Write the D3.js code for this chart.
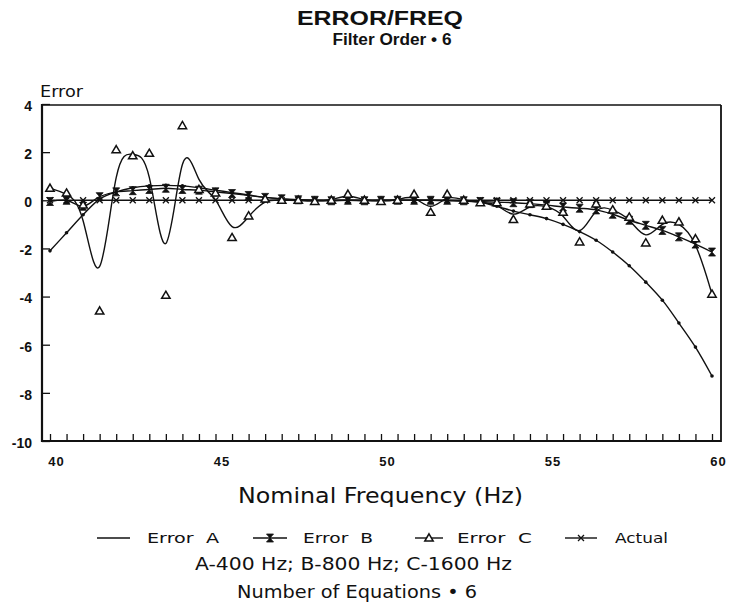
<!DOCTYPE html>
<html>
<head>
<meta charset="utf-8">
<script src="https://cdn.jsdelivr.net/npm/d3@7"></script>
<style>
  body { margin: 0; background: #fff; }
  svg { display: block; }
  text { font-family: "DejaVu Sans", "Liberation Sans", sans-serif; fill: #111; }
  .title { font-family: "Liberation Sans", Arial, sans-serif; }
  .axis path { display: none; }
  .axis line { stroke: #111; stroke-width: 1.3; }
  .axis text { font-size: 13px; font-weight: bold; fill: #111; font-family: "Liberation Sans", Arial, sans-serif; }
  .series { fill: none; stroke: #111; stroke-width: 1.4; }
  .frame { stroke: #111; fill: none; }
</style>
</head>
<body>
<svg id="chart" width="730" height="607"></svg>
<script>
// data, one value every 0.5 Hz
const freqs = [40, 40.5, 41, 41.5, 42, 42.5, 43, 43.5, 44, 44.5,
  45, 45.5, 46, 46.5, 47, 47.5, 48, 48.5, 49, 49.5,
  50, 50.5, 51, 51.5, 52, 52.5, 53, 53.5, 54, 54.5,
  55, 55.5, 56, 56.5, 57, 57.5, 58, 58.5, 59, 59.5, 60];

const errorA = [-2.1, -1.35, -0.6, 0.05, 0.35, 0.52, 0.6, 0.62, 0.6, 0.52,
  0.42, 0.32, 0.22, 0.12, 0.06, 0.02, 0, 0, 0, 0,
  0, 0, 0, 0, -0.02, -0.04, -0.08, -0.25, -0.45, -0.6,
  -0.76, -1.0, -1.3, -1.66, -2.15, -2.72, -3.4, -4.15, -5.1, -6.1, -7.3];

const errorB = [-0.05, 0, -0.25, 0.15, 0.35, 0.4, 0.45, 0.5, 0.45, 0.42,
  0.35, 0.28, 0.2, 0.12, 0.06, 0.02, 0, -0.02, 0, -0.02,
  0, 0, 0, 0, 0, -0.02, -0.05, -0.08, -0.1, -0.14,
  -0.2, -0.28, -0.33, -0.4, -0.58, -0.83, -1.04, -1.25, -1.52, -1.82, -2.15];

const errorC = [0.5, 0.3, -0.2, -4.6, 2.1, 1.85, 1.95, -3.95, 3.1, 0.45,
  0.3, -1.55, -0.65, 0.05, 0, 0, -0.05, 0, 0.25, 0,
  -0.05, 0, 0.25, -0.5, 0.25, 0, -0.1, -0.1, -0.8, -0.15,
  -0.25, -0.5, -1.73, -0.15, -0.4, -0.7, -1.77, -0.83, -0.9, -1.6, -3.9];

const actual = [0, 0, 0, 0, 0, 0, 0, 0, 0, 0,
  0, 0, 0, 0, 0, 0, 0, 0, 0, 0,
  0, 0, 0, 0, 0, 0, 0, 0, 0, 0,
  0, 0, 0, 0, 0, 0, 0, 0, 0, 0, 0];

const yTicks = [4, 2, 0, -2, -4, -6, -8, -10];
const xLabels = [40, 45, 50, 55, 60];
const legendLabels = ['Error\u00a0\u00a0A', 'Error\u00a0\u00a0B', 'Error\u00a0\u00a0C', 'Actual'];
const legendKeys = ['dot', 'hourglass', 'triangle', 'cross'];

const svg = d3.select('#chart');

const x = d3.scaleLinear().domain([40, 60]).range([50, 712]);
const y = d3.scaleLinear().domain([-10, 4]).range([441, 104]);

const frameLeft = 42;
const frameRight = 721;

// marker shapes
const marker = {
  dot: g => g.append('circle').attr('r', 1.8).attr('fill', '#111'),
  hourglass: g => g.append('path').attr('d', 'M-3.5,-4H3.5L-3.5,4H3.5Z')
    .attr('fill', '#111').attr('stroke', '#111').attr('stroke-width', 0.8),
  triangle: g => g.append('path').attr('d', 'M0,-4.2L4.2,3L-4.2,3Z')
    .attr('fill', '#fff').attr('stroke', '#111').attr('stroke-width', 1.5),
  cross: g => g.append('path').attr('d', 'M-3,-3L3,3M-3,3L3,-3')
    .attr('fill', 'none').attr('stroke', '#111').attr('stroke-width', 1.3),
};

// titles and notes
const addText = (txt, cx, by, size, w, weight) => svg.append('text')
    .attr('x', cx)
    .attr('y', by)
    .attr('text-anchor', 'middle')
    .attr('textLength', w)
    .attr('lengthAdjust', 'spacingAndGlyphs')
    .style('font-size', `${size}px`)
    .style('font-weight', weight || 'normal')
    .text(txt);

addText('ERROR/FREQ', 380, 25, 21, 166, 'bold').attr('class', 'title');
addText('Filter Order \u2022 6', 392, 45, 16, 119, 'bold').attr('class', 'title');
addText('Error', 61.5, 97, 16, 43);
addText('Nominal Frequency (Hz)', 380.5, 503, 21, 285);
addText('A-400 Hz; B-800 Hz; C-1600 Hz', 353.5, 570, 17, 317);
addText('Number of Equations \u2022 6', 357, 598, 17, 240);

// frame
svg.append('line').attr('class', 'frame')
    .attr('x1', frameLeft).attr('x2', frameLeft).attr('y1', y(4)).attr('y2', y(-10) + 1)
    .attr('stroke-width', 2.2);
svg.append('line').attr('class', 'frame')
    .attr('x1', frameLeft).attr('x2', frameRight).attr('y1', y(-10)).attr('y2', y(-10))
    .attr('stroke-width', 2.2);
svg.append('line').attr('class', 'frame')
    .attr('x1', frameLeft).attr('x2', frameRight).attr('y1', y(4) + 1).attr('y2', y(4) + 1)
    .attr('stroke-width', 1.4);
svg.append('line').attr('class', 'frame')
    .attr('x1', frameRight).attr('x2', frameRight).attr('y1', y(4) + 1).attr('y2', y(-10) + 1)
    .attr('stroke-width', 1.8);

// axes
svg.append('g')
    .attr('class', 'axis')
    .attr('transform', `translate(${frameLeft}, 0)`)
    .call(d3.axisLeft(y)
      .tickValues(yTicks)
      .tickFormat(d => String(d))
      .tickSizeInner(-8)
      .tickSizeOuter(0)
      .tickPadding(10))
  .selectAll('text')
    .style('font-size', '14px')
    .attr('dy', '0.45em');

svg.append('g')
    .attr('class', 'axis')
    .attr('transform', `translate(0, ${y(-10)})`)
    .call(d3.axisBottom(x)
      .tickValues(freqs)
      .tickFormat(d => (xLabels.includes(d) ? String(d) : ''))
      .tickSizeInner(-7)
      .tickSizeOuter(0)
      .tickPadding(16))
  .selectAll('text')
    .attr('dx', 6)
    .style('letter-spacing', '1px');

// series
const pts = vals => vals.map((v, i) => [freqs[i], v]);
const lineBasis = d3.line().x(d => x(d[0])).y(d => y(d[1])).curve(d3.curveBasis);
const lineSmooth = d3.line().x(d => x(d[0])).y(d => y(d[1])).curve(d3.curveCatmullRom);

const series = [
  { vals: actual, key: 'cross', gen: lineSmooth },
  { vals: errorA, key: 'dot', gen: lineSmooth },
  { vals: errorB, key: 'hourglass', gen: lineSmooth },
  { vals: errorC, key: 'triangle', gen: lineBasis },
];

series.forEach((s) => {
  svg.append('path')
      .attr('class', 'series')
      .attr('d', s.gen(pts(s.vals)));
});

series.forEach((s) => {
  svg.append('g')
    .selectAll('g')
      .data(pts(s.vals))
    .enter().append('g')
      .attr('transform', d => `translate(${x(d[0])}, ${y(d[1])})`)
      .each(function () { marker[s.key](d3.select(this)); });
});

// legend
const legendY = 538;
const legendLines = [[97, 130], [253, 287], [415, 443], [565, 597]];
const legendTextX = [147, 303, 457, 615];
const legendTextW = [72, 70, 75, 53];

legendLabels.forEach((lab, i) => {
  const [l1, l2] = legendLines[i];
  svg.append('line')
      .attr('x1', l1).attr('x2', l2)
      .attr('y1', legendY).attr('y2', legendY)
      .attr('stroke', '#111')
      .attr('stroke-width', 1.4);
  if (legendKeys[i] !== 'dot') {
    const g = svg.append('g').attr('transform', `translate(${(l1 + l2) / 2}, ${legendY})`);
    marker[legendKeys[i]](g);
  }
  svg.append('text')
      .attr('x', legendTextX[i])
      .attr('y', legendY + 4.5)
      .attr('textLength', legendTextW[i])
      .attr('lengthAdjust', 'spacingAndGlyphs')
      .style('font-size', '14px')
      .text(lab);
});
</script>
</body>
</html>
